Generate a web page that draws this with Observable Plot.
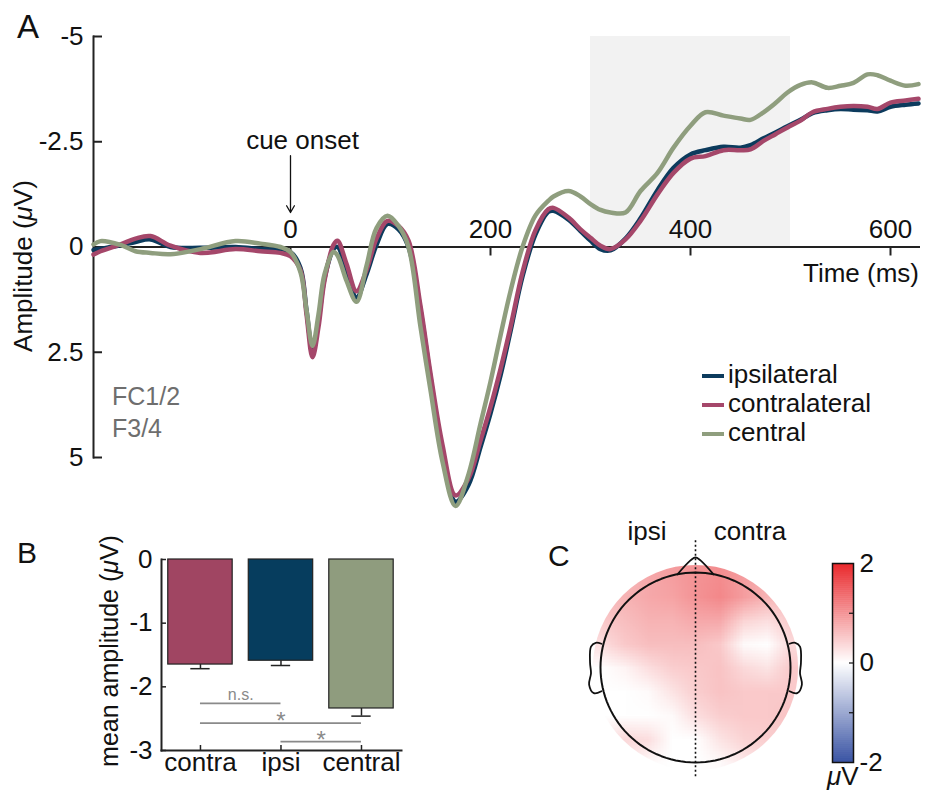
<!DOCTYPE html>
<html><head><meta charset="utf-8">
<script src="https://cdn.jsdelivr.net/npm/d3@7"></script>
<script src="https://cdn.jsdelivr.net/npm/@observablehq/plot@0.6"></script>
<style>
body{margin:0;background:#fff;}
#fig{position:relative;width:926px;height:794px;font-family:"Liberation Sans",Arial,Helvetica,sans-serif;color:#111;overflow:hidden;background:#fff}
</style></head><body><div id="fig"></div>
<script>
// ---------- Panel A data ----------
const times = [-197,-190,-170,-155,-140,-120,-90,-55,-30,-10,0,10,16,22,28,34,43,47,56,66,76,86,97,108,118,130,140,152,165,178,190,200,210,220,232,245,258,263,278,290,300,310,320,335,350,367,383,400,415,433,450,460,473,485,497,510,522,537,550,563,577,587,600,615,628];
const ipsilateral = [0.07,0.04,-0.04,-0.12,-0.18,0.0,0.02,0.0,0.05,0.08,0.12,0.5,1.5,2.45,1.75,0.75,0.05,0.0,0.55,1.2,0.65,-0.05,-0.55,-0.42,0.0,1.5,3.1,4.85,6.05,5.65,4.75,3.95,3.05,2.0,0.7,-0.3,-0.84,-0.86,-0.65,-0.38,-0.15,0.05,0.08,-0.2,-0.68,-1.35,-1.88,-2.2,-2.3,-2.38,-2.36,-2.42,-2.58,-2.72,-2.87,-3.02,-3.18,-3.25,-3.28,-3.26,-3.25,-3.22,-3.33,-3.38,-3.41];
const contralateral = [0.18,0.1,-0.06,-0.2,-0.26,-0.03,0.14,0.05,0.1,0.14,0.22,0.55,1.6,2.62,1.9,0.8,-0.05,-0.15,0.4,1.05,0.55,-0.2,-0.62,-0.5,-0.15,1.4,3.0,4.7,5.9,5.5,4.6,3.8,2.9,1.9,0.6,-0.4,-0.9,-0.93,-0.7,-0.42,-0.22,-0.03,0.05,-0.18,-0.62,-1.25,-1.76,-2.1,-2.16,-2.3,-2.3,-2.32,-2.52,-2.68,-2.84,-3.0,-3.2,-3.28,-3.33,-3.35,-3.33,-3.28,-3.43,-3.48,-3.52];
const central = [-0.06,-0.14,-0.05,0.1,0.14,0.17,0.05,-0.14,-0.08,0.0,0.12,0.6,1.5,2.35,1.6,0.65,0.12,0.2,0.8,1.3,0.45,-0.45,-0.74,-0.5,0.0,1.9,3.4,5.1,6.15,5.4,4.2,3.2,2.1,1.05,0.0,-0.75,-1.1,-1.2,-1.33,-1.2,-1.02,-0.88,-0.82,-0.82,-1.33,-1.76,-2.36,-2.88,-3.2,-3.12,-3.05,-3.02,-3.2,-3.42,-3.67,-3.85,-3.91,-3.78,-3.83,-3.9,-4.1,-4.08,-3.95,-3.83,-3.87];
const seriesNames = ["ipsilateral","contralateral","central"];
const seriesColors = ["#0c3b5d","#a5476a","#8f9e7e"];
const xTicksA = [0,200,400,600];
const yTicksA = [-5,-2.5,0,2.5,5];
const xDomainA = [-197,630];
const yDomainA = [-5,5];
const analysisWindow = [300,500];
const cueOnset = 0;
const cueArrowY = [-2.17,-0.82];
const cueTextY = -2.33;

// ---------- Panel B data ----------
const barCats = ["contra","ipsi","central"];
const barMeans = [-1.65,-1.59,-2.34];
const barSems = [0.065,0.075,0.12];
const barColors = ["#a04562","#063d5e","#8f9c7e"];
const yTicksB = [0,-1,-2,-3];
const sigFrom = [1,1,2];
const sigTo = [2,3,3];
const sigLevels = [-2.26,-2.57,-2.86];
const sigLabels = ["n.s.","*","*"];

// ---------- Panel C data (topography, rows top->bottom, cols left->right) ----------
const topoCoords = [-1,-0.75,-0.5,-0.25,0,0.25,0.5,0.75,1];
const topoValues = [
  [0.5,0.6,0.8,0.9,1.0,1.05,0.9,0.7,0.5],
  [0.6,0.7,0.8,0.85,1.0,1.1,0.9,0.7,0.6],
  [0.5,0.6,0.7,0.7,0.8,0.8,0.4,0.3,0.5],
  [0.3,0.5,0.6,0.6,0.6,0.5,0.05,0.0,0.35],
  [0.0,0.1,0.3,0.45,0.5,0.55,0.35,0.25,0.5],
  [0.0,0.0,0.05,0.25,0.45,0.55,0.5,0.5,0.5],
  [0.0,0.0,0.0,0.05,0.3,0.45,0.5,0.5,0.55],
  [0.2,0.35,0.3,0.0,0.0,0.25,0.4,0.45,0.5],
  [0.2,0.2,0.05,0.0,0.0,0.05,0.2,0.3,0.4]
];
const colorDomain = [-2,0,2];
const colorRange = ["#3a54a4","#ffffff","#e9262a"];
const colorTicks = [-2,0,2];
const colorMinorTicks = [-1,0,1];

// ---------- helpers ----------
const fig = document.getElementById("fig");
const FONT = '"Liberation Sans", Arial, Helvetica, sans-serif';
const baseStyle = {fontFamily: FONT, fontSize: "25px", background: "transparent", overflow: "visible", color: "#111"};
function place(el, left, top){ el.style.position="absolute"; el.style.left=left+"px"; el.style.top=top+"px"; fig.appendChild(el); }
function label(html, x, baseline, fs, opts={}) {
  const d = document.createElement("div");
  d.innerHTML = html;
  d.style.cssText = `position:absolute;font-size:${fs}px;line-height:${fs}px;white-space:nowrap;color:${opts.color||"#111"};`;
  d.style.top = (baseline - 0.8465*fs) + "px";
  if (opts.anchor === "end") d.style.right = (926 - x) + "px";
  else if (opts.anchor === "middle") { d.style.left = x+"px"; d.style.transform = "translateX(-50%)"; }
  else d.style.left = x+"px";
  fig.appendChild(d);
  return d;
}
function vlabel(html, cx, cy, fs) {
  const d = document.createElement("div");
  d.innerHTML = html;
  d.style.cssText = `position:absolute;left:${cx}px;top:${cy}px;font-size:${fs}px;line-height:${fs}px;white-space:nowrap;transform:translate(-50%,-50%) rotate(-90deg);`;
  fig.appendChild(d);
}

// ---------- Panel A ----------
const seriesVals = [ipsilateral, contralateral, central];
const rowsA = [];
seriesNames.forEach((name, s) => times.forEach((t, i) => rowsA.push({series: name, t, v: seriesVals[s][i]})));

const plotA = Plot.plot({
  width: 926, height: 520, marginLeft: 93, marginRight: 6, marginTop: 36, marginBottom: 63,
  style: baseStyle,
  x: {domain: xDomainA, axis: null},
  y: {domain: yDomainA, reverse: true, axis: null},
  color: {domain: seriesNames, range: seriesColors},
  marks: [
    Plot.rect([analysisWindow], {x1: d => d[0], x2: d => d[1], y1: yDomainA[0], y2: 0, fill: "#f2f2f2"}),
    Plot.ruleY([0], {stroke: "#222", strokeWidth: 2}),
    Plot.ruleX(xTicksA, {y1: 0, y2: 0, insetBottom: -9, stroke: "#222", strokeWidth: 2}),
    Plot.text(xTicksA, {x: d => d, y: 0, dy: -9, lineAnchor: "bottom", text: d => String(d), fontSize: 26, fill: "#111"}),
    Plot.frame({anchor: "left", stroke: "#222", strokeWidth: 2}),
    Plot.ruleY(yTicksA, {x1: xDomainA[0], x2: xDomainA[0], insetRight: -9, stroke: "#222", strokeWidth: 2}),
    Plot.axisY({ticks: yTicksA, tickSize: 0, tickPadding: 10, tickFormat: d => String(d), fontSize: 26, label: null}),
    Plot.line(rowsA, {x: "t", y: "v", z: "series", stroke: "series", strokeWidth: 4.5, curve: "catmull-rom", strokeLinejoin: "round"}),
    Plot.arrow([cueOnset], {x1: d => d, x2: d => d, y1: cueArrowY[0], y2: cueArrowY[1], stroke: "#111", strokeWidth: 1.3, headLength: 9}),
    Plot.text([cueOnset], {x: d => d, y: cueTextY, dx: 12, lineAnchor: "bottom", text: () => "cue onset", fontSize: 26, fill: "#111"})
  ]
});
place(plotA, 0, 0);

label("A", 17, 38, 33);
label("Time (ms)", 919, 282, 26, {anchor: "end"});
vlabel('Amplitude (<i>μ</i>V)', 23, 266, 26);
label("FC1/2", 112, 405, 25, {color: "#6e6e6e"});
label("F3/4", 112, 437, 25, {color: "#6e6e6e"});
// legend
const legBase = [383, 412, 441];
seriesNames.forEach((name, i) => {
  const sw = document.createElement("div");
  sw.style.cssText = `position:absolute;left:702px;width:22px;height:4px;top:${legBase[i]-9}px;background:${seriesColors[i]};`;
  fig.appendChild(sw);
  label(name, 728, legBase[i], 26);
});

// ---------- Panel B ----------
const bars = barCats.map((c, i) => ({cat: c, pos: i + 1, mean: barMeans[i], sem: barSems[i], color: barColors[i]}));
const sigs = sigLabels.map((l, i) => ({from: sigFrom[i], to: sigTo[i], level: sigLevels[i], label: l}));
const xDomainB = [0.516, 3.497];
const plotB = Plot.plot({
  width: 440, height: 274, marginLeft: 161, marginRight: 39, marginTop: 39, marginBottom: 44,
  style: baseStyle,
  x: {domain: xDomainB, axis: null},
  y: {domain: [-3, 0], axis: null},
  marks: [
    Plot.rect(bars, {x1: d => d.pos - 0.4, x2: d => d.pos + 0.4, y1: 0, y2: "mean", fill: "color", stroke: "#222", strokeWidth: 1.2}),
    Plot.ruleX(bars, {x: "pos", y1: "mean", y2: d => d.mean - d.sem, stroke: "#222", strokeWidth: 1.5}),
    Plot.ruleY(bars, {y: d => d.mean - d.sem, x1: d => d.pos - 0.12, x2: d => d.pos + 0.12, stroke: "#222", strokeWidth: 1.5}),
    Plot.ruleY(sigs, {y: "level", x1: "from", x2: "to", stroke: "#8a8a8a", strokeWidth: 1.8}),
    Plot.text(sigs.filter(d => d.label !== "*"), {x: d => (d.from + d.to) / 2, y: "level", dy: -3, lineAnchor: "bottom", text: "label", fontSize: 16, fill: "#8a8a8a"}),
    Plot.text(sigs.filter(d => d.label === "*"), {x: d => (d.from + d.to) / 2, y: "level", dy: 6, lineAnchor: "bottom", text: "label", fontSize: 24, fill: "#8a8a8a"}),
    Plot.frame({anchor: "left", stroke: "#222", strokeWidth: 2}),
    Plot.frame({anchor: "bottom", stroke: "#222", strokeWidth: 2}),
    Plot.ruleY(yTicksB, {x1: xDomainB[0], x2: xDomainB[0], insetRight: -5, stroke: "#222", strokeWidth: 1.5}),
    Plot.axisY({ticks: yTicksB, tickSize: 0, tickPadding: 9, tickFormat: d => String(d), fontSize: 26, label: null}),
    Plot.ruleX(bars, {x: "pos", y1: -3, y2: -3, insetTop: -5, stroke: "#222", strokeWidth: 1.5}),
    Plot.axisX({ticks: bars.map(d => d.pos), tickSize: 0, tickPadding: 2, tickFormat: p => barCats[p - 1], fontSize: 26, label: null})
  ]
});
place(plotB, 0, 520);
label("B", 17, 563, 30);
vlabel('mean amplitude (<i>μ</i>V)', 109, 651, 25);

// ---------- Panel C ----------
const colorOpt = {type: "linear", domain: colorDomain, range: colorRange};
const circle = d3.range(0, 361, 3).map(a => ({x: Math.cos(a * Math.PI / 180), y: Math.sin(a * Math.PI / 180)}));
const nose = [{x: -0.19, y: 0.98}, {x: -0.05, y: 1.13}, {x: 0, y: 1.16}, {x: 0.05, y: 1.13}, {x: 0.19, y: 0.98}];
const earL = [{x: -0.99, y: 0.25}, {x: -1.05, y: 0.26}, {x: -1.1, y: 0.22}, {x: -1.11, y: 0.05}, {x: -1.1, y: -0.06}, {x: -1.12, y: -0.18}, {x: -1.07, y: -0.27}, {x: -0.99, y: -0.25}];
const earR = earL.map(p => ({x: -p.x, y: p.y}));
const half = (topoCoords[1] - topoCoords[0]) / 2;
const topoPlot = Plot.plot({
  width: 270, height: 274, marginLeft: 40, marginRight: 40, marginTop: 52, marginBottom: 32,
  style: baseStyle,
  x: {domain: [-1, 1], axis: null},
  y: {domain: [-1, 1], axis: null},
  color: colorOpt,
  marks: [
    Plot.raster(topoValues.flat(), {width: topoCoords.length, height: topoCoords.length,
      x1: topoCoords[0] - half, x2: topoCoords[topoCoords.length - 1] + half,
      y1: topoCoords[topoCoords.length - 1] + half, y2: topoCoords[0] - half, fill: d => d}),
    Plot.line(circle, {x: "x", y: "y", stroke: "#111", strokeWidth: 2}),
    Plot.line(nose, {x: "x", y: "y", stroke: "#111", strokeWidth: 1.8, curve: "catmull-rom"}),
    Plot.line(earL, {x: "x", y: "y", stroke: "#111", strokeWidth: 1.8, curve: "catmull-rom"}),
    Plot.line(earR, {x: "x", y: "y", stroke: "#111", strokeWidth: 1.8, curve: "catmull-rom"}),
    Plot.ruleX([0], {y1: -1.15, y2: 1.34, stroke: "#111", strokeWidth: 1.6, strokeDasharray: "2,2.5"})
  ]
});
{
  const sx = topoPlot.scale("x"), sy = topoPlot.scale("y");
  const cx = sx.apply(0), cy = sy.apply(0), r = Math.abs(sx.apply(1.08) - cx);
  const s = d3.select(topoPlot);
  s.append("defs").append("clipPath").attr("id", "discclip").append("circle").attr("cx", cx).attr("cy", cy).attr("r", r);
  s.selectAll('g[aria-label="raster"]').attr("clip-path", "url(#discclip)");
}
place(topoPlot, 560, 520);

const cbSteps = d3.range(-2, 2, 0.04);
const cbPlot = Plot.plot({
  width: 126, height: 274, marginLeft: 32, marginRight: 73, marginTop: 43, marginBottom: 32,
  style: baseStyle,
  x: {domain: [0, 1], axis: null},
  y: {domain: [-2, 2], axis: null},
  color: colorOpt,
  marks: [
    Plot.rect(cbSteps, {x1: 0, x2: 1, y1: d => d, y2: d => Math.min(2, d + 0.05), fill: d => d + 0.02}),
    Plot.frame({stroke: "#111", strokeWidth: 1.5}),
    Plot.ruleY(colorMinorTicks, {x1: 1, x2: 1, insetLeft: -4, stroke: "#111", strokeWidth: 1.2}),
    Plot.axisY({anchor: "right", ticks: colorTicks, tickSize: 0, tickPadding: 6, tickFormat: d => String(d), fontSize: 26, label: null})
  ]
});
place(cbPlot, 800, 520);

label("C", 548, 566, 30);
label("ipsi", 647, 540, 26, {anchor: "middle"});
label("contra", 750, 540, 26, {anchor: "middle"});
label('<i>μ</i>V', 827, 785, 26);
</script></body></html>
